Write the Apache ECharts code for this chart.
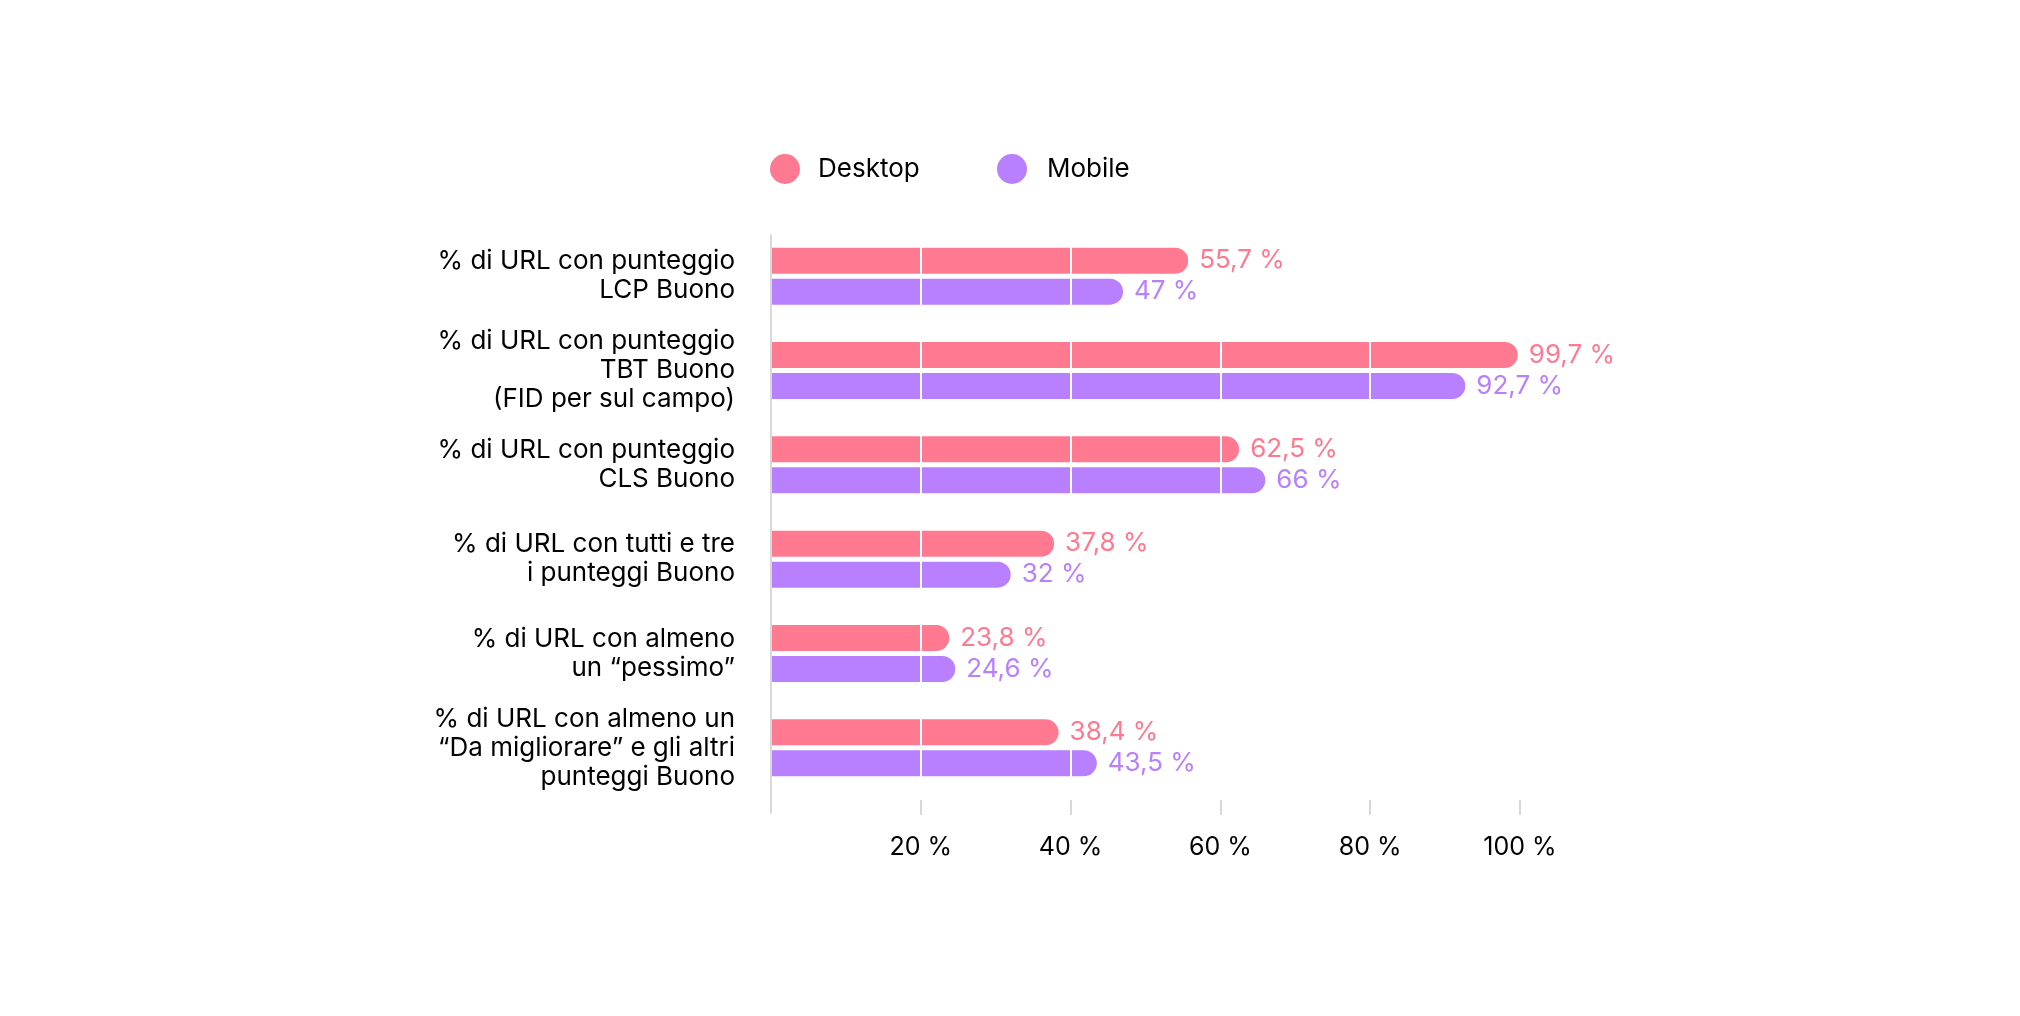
<!DOCTYPE html>
<html>
<head>
<meta charset="utf-8">
<script src="https://cdn.jsdelivr.net/npm/echarts@6/dist/echarts.min.js"></script>
<style>
  html, body { margin: 0; padding: 0; background: #fff; }
  #chart { width: 2020px; height: 1016px; }
</style>
</head>
<body>
<div id="chart"></div>
<script>
// categorie (dall'alto in basso)
const categories = [
  '% di URL con punteggio\nLCP Buono',
  '% di URL con punteggio\nTBT Buono\n(FID per sul campo)',
  '% di URL con punteggio\nCLS Buono',
  '% di URL con tutti e tre\ni punteggi Buono',
  '% di URL con almeno\nun “pessimo”',
  '% di URL con almeno un\n“Da migliorare” e gli altri\npunteggi Buono'
];
const desktopValues = [55.7, 99.7, 62.5, 37.8, 23.8, 38.4];
const mobileValues = [47, 92.7, 66, 32, 24.6, 43.5];
const seriesNames = ['Desktop', 'Mobile'];

const DESKTOP = '#ff7a90';
const MOBILE = '#b880fe';
const FONT = 'Inter';

const chart = echarts.init(document.getElementById('chart'));

function fmt(v) {
  return String(v).replace('.', ',') + ' %';
}

// etichette sopra le linee bianche della griglia
function labelSeries(values, color, dy) {
  return {
    type: 'scatter',
    z: 6,
    silent: true,
    symbolSize: 0,
    itemStyle: { opacity: 1, color: color },
    data: values.map((v, i) => [v, i]),
    label: {
      show: true,
      position: 'right',
      distance: 11,
      offset: [0, dy],
      opacity: 1,
      fontSize: 26,
      fontFamily: FONT,
      color: color,
      formatter: p => fmt(p.value[0])
    }
  };
}

const option = {
  animation: false,
  textStyle: { fontFamily: FONT },
  legend: [
    {
      data: [seriesNames[0]],
      left: 765, top: 149,
      itemWidth: 30, itemHeight: 30,
      icon: 'circle',
      textStyle: { fontSize: 26, color: '#000', fontFamily: FONT, padding: [0, 0, 0, 13] }
    },
    {
      data: [seriesNames[1]],
      left: 992, top: 149,
      itemWidth: 30, itemHeight: 30,
      icon: 'circle',
      textStyle: { fontSize: 26, color: '#000', fontFamily: FONT, padding: [0, 0, 0, 15] }
    }
  ],
  grid: [
    { left: 771, right: 500, top: 229, bottom: 221, containLabel: false },
    // solo per la linea verticale dell'asse
    { left: 771, right: 500, top: 235, bottom: 203, containLabel: false }
  ],
  xAxis: [
    {
      type: 'value',
      gridIndex: 0,
      min: 0, max: 100, interval: 20,
      z: 3,
      offset: 5,
      axisLine: { show: false },
      axisTick: { show: true, length: 15, lineStyle: { color: '#cccccc', width: 1.5 } },
      splitLine: { show: true, lineStyle: { color: '#ffffff', width: 2 } },
      axisLabel: {
        showMinLabel: false,
        fontSize: 25,
        color: '#000',
        fontFamily: FONT,
        margin: 35,
        formatter: '{value} %'
      }
    },
    {
      type: 'value',
      gridIndex: 1,
      show: false
    }
  ],
  yAxis: [
    {
      type: 'category',
      gridIndex: 0,
      data: categories,
      inverse: true,
      axisLine: { show: false },
      axisTick: { show: false },
      axisLabel: {
        fontSize: 26,
        lineHeight: 29,
        color: '#000',
        fontFamily: FONT,
        margin: 36,
        align: 'right'
      }
    },
    {
      type: 'value',
      gridIndex: 1,
      z: 5,
      axisLine: { show: true, lineStyle: { color: '#cccccc', width: 1.5 } },
      axisTick: { show: false },
      axisLabel: { show: false },
      splitLine: { show: false }
    }
  ],
  series: [
    {
      name: seriesNames[0],
      type: 'bar',
      data: desktopValues,
      barWidth: 26,
      barGap: '19%',
      itemStyle: { color: DESKTOP, borderRadius: [0, 13, 13, 0] }
    },
    {
      name: seriesNames[1],
      type: 'bar',
      data: mobileValues,
      barWidth: 26,
      barGap: '19%',
      itemStyle: { color: MOBILE, borderRadius: [0, 13, 13, 0] }
    },
    labelSeries(desktopValues, DESKTOP, -15.5),
    labelSeries(mobileValues, MOBILE, 15.5)
  ]
};

chart.setOption(option);
</script>
</body>
</html>
